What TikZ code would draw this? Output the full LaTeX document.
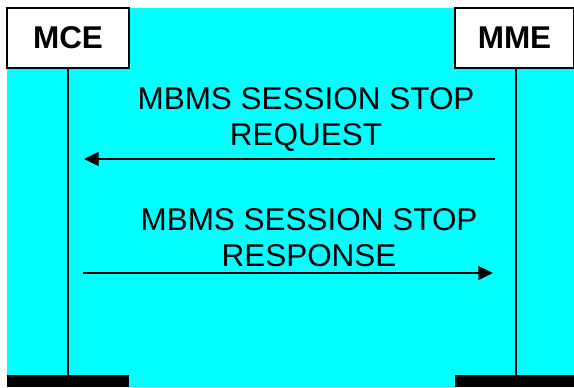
\documentclass[tikz,border=0pt]{standalone}
\usepackage{fontspec}
\setmainfont{Liberation Sans}
\usetikzlibrary{arrows.meta}
\definecolor{bgcyan}{RGB}{0,255,255}
\begin{document}
\begin{tikzpicture}[x=0.75pt,y=-0.75pt,
  entity/.style={draw=black,line width=0.9pt,fill=white,inner sep=0pt,minimum width=91.5pt,minimum height=45pt,font=\fontsize{23.6}{27}\selectfont\bfseries},
  bar/.style={fill=black,inner sep=0pt,minimum height=9pt},
  life/.style={line width=1pt},
  msg/.style={line width=1pt,-{Triangle[length=11pt,width=10.5pt]}},
  lbl/.style={align=center,inner sep=0pt,anchor=base,font=\fontsize{23.6}{27}\selectfont}]
\useasboundingbox (0,0) rectangle (574,387);
\fill[bgcyan] (7,8) rectangle (574,387);
\node[entity] (mce) at (68,38) {MCE};
\node[entity,minimum width=89.25pt] (mme) at (514.5,38) {MME};
\node[bar,minimum width=91.5pt] (mcebar) at (68,381) {};
\node[bar,minimum width=89.25pt] (mmebar) at (514.5,381) {};
\draw[life] (mce.south) -- (mcebar.north);
\draw[life] ([xshift=1.1pt]mme.south) -- ([xshift=1.1pt]mmebar.north);
\node[lbl] (req) at (306,145) {MBMS SESSION STOP\\REQUEST};
\node[lbl] (resp) at (309,266) {MBMS SESSION STOP\\RESPONSE};
\coordinate (reqs) at (495,159);
\coordinate (reqe) at (84,159);
\coordinate (resps) at (83,273);
\coordinate (respe) at (493,273);
\draw[msg] (reqs) -- (reqe);
\draw[msg] (resps) -- (respe);
\end{tikzpicture}
\end{document}
